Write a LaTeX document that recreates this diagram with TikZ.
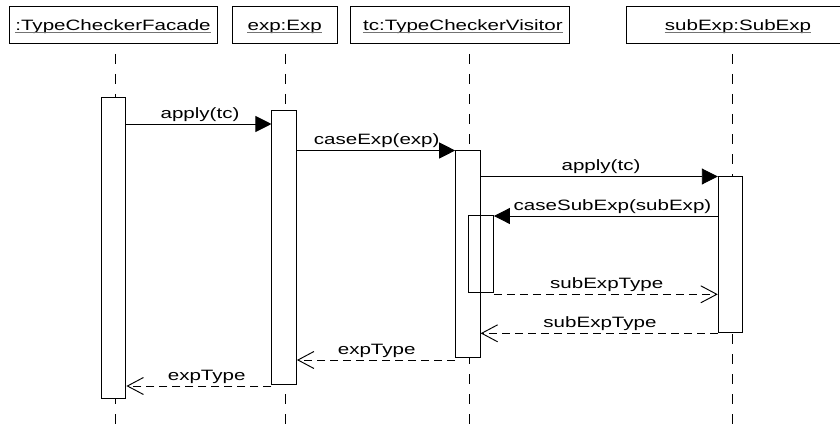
\documentclass[tikz,border=0pt]{standalone}
\usepackage{fontspec}
\setmainfont{Liberation Sans}[FakeStretch=1.37]
\usetikzlibrary{arrows.meta}

\tikzset{
  head/.style={draw, line width=0.95pt, fill=white, inner sep=0pt, minimum height=37pt},
  headtxt/.style={inner sep=0pt, anchor=base, font=\fontsize{15pt}{18pt}\selectfont},
  uline/.style={draw=black!55, line width=1.2pt},
  lifeline/.style={line width=0.95pt, dash pattern=on 10pt off 10pt, dash phase=10pt},
  bar/.style={draw, line width=0.95pt, fill=white, inner sep=0pt, minimum width=24.5pt},
  nested/.style={draw, line width=0.95pt, inner sep=0pt, minimum width=24.5pt},
  call/.style={line width=0.95pt, -{Triangle[length=16pt,width=16pt]}},
  reply/.style={line width=0.95pt, dash pattern=on 8pt off 5pt,
    -{Straight Barb[length=16pt,width=17pt,line width=0.95pt]}},
  lbl/.style={inner sep=0pt, anchor=base, font=\fontsize{15pt}{18pt}\selectfont},
}

\begin{document}
\begin{tikzpicture}[x=1pt, y=-1pt]
\useasboundingbox (0,0) rectangle (840,425);
\clip (0,0) rectangle (840,425);

% lifelines
\coordinate (L1) at (115,44);
\coordinate (L2) at (285,44);
\coordinate (L3) at (469,44);
\coordinate (L4) at (732,44);
\foreach \l in {L1,L2,L3,L4} \draw[lifeline] (\l) -- (\l |- 0,425);

% object heads
\node[head, minimum width=208pt]   (H1) at (113,24.5)   {};
\node[head, minimum width=105.5pt] (H2) at (284.75,24.5) {};
\node[head, minimum width=219.3pt] (H3) at (460.3,24.5) {};
\node[head, minimum width=224pt]   (H4) at (738,24.5)   {};
\node[headtxt] (T1) at (113,31)   {:TypeCheckerFacade};
\node[headtxt] (T2) at (284.7,31) {exp:Exp};
\node[headtxt] (T3) at (462.9,31) {tc:TypeCheckerVisitor};
\node[headtxt] (T4) at (738,31)   {subExp:SubExp};
\foreach \t in {T1,T2,T3,T4}
  \draw[uline] ([yshift=-1.8pt]\t.base west) -- ([yshift=-1.8pt]\t.base east);

% activation bars
\node[bar, minimum height=301pt]   (F) at (113.7,247.5) {};
\node[bar, minimum height=273.6pt] (E) at (284.2,247.5) {};
\node[bar, minimum height=207.7pt] (V) at (467.9,253.85) {};
\node[bar, minimum height=155.3pt] (S) at (730.5,254.35) {};
\node[nested, minimum height=76.6pt] (N) at (481.2,254) {};

% message levels
\coordinate (m1) at (0,124);
\coordinate (m2) at (0,150.5);
\coordinate (m3) at (0,176.5);
\coordinate (m4) at (0,216);
\coordinate (m5) at (0,294.3);
\coordinate (m6) at (0,333.3);
\coordinate (m7) at (0,360);
\coordinate (m8) at (0,386);

% messages
\draw[call]  (F.east |- m1) -- (E.west |- m1);
\draw[call]  (E.east |- m2) -- (V.west |- m2);
\draw[call]  (V.east |- m3) -- (S.west |- m3);
\draw[call]  (S.west |- m4) -- (N.east |- m4);
\draw[reply] (N.east |- m5) -- (S.west |- m5);
\draw[reply] (S.west |- m6) -- (V.east |- m6);
\draw[reply] (V.west |- m7) -- (E.east |- m7);
\draw[reply] (E.west |- m8) -- (F.east |- m8);

% message labels
\node[lbl] (a1) at (200,118)   {apply(tc)};
\node[lbl] (a2) at (376.7,144.5) {caseExp(exp)};
\node[lbl] (a3) at (601,170.5) {apply(tc)};
\node[lbl] (a4) at (612.5,210) {caseSubExp(subExp)};
\node[lbl] (a5) at (606.7,288.3) {subExpType};
\node[lbl] (a6) at (600,327.3) {subExpType};
\node[lbl] (a7) at (376.7,354) {expType};
\node[lbl] (a8) at (206.7,380) {expType};
\end{tikzpicture}
\end{document}
